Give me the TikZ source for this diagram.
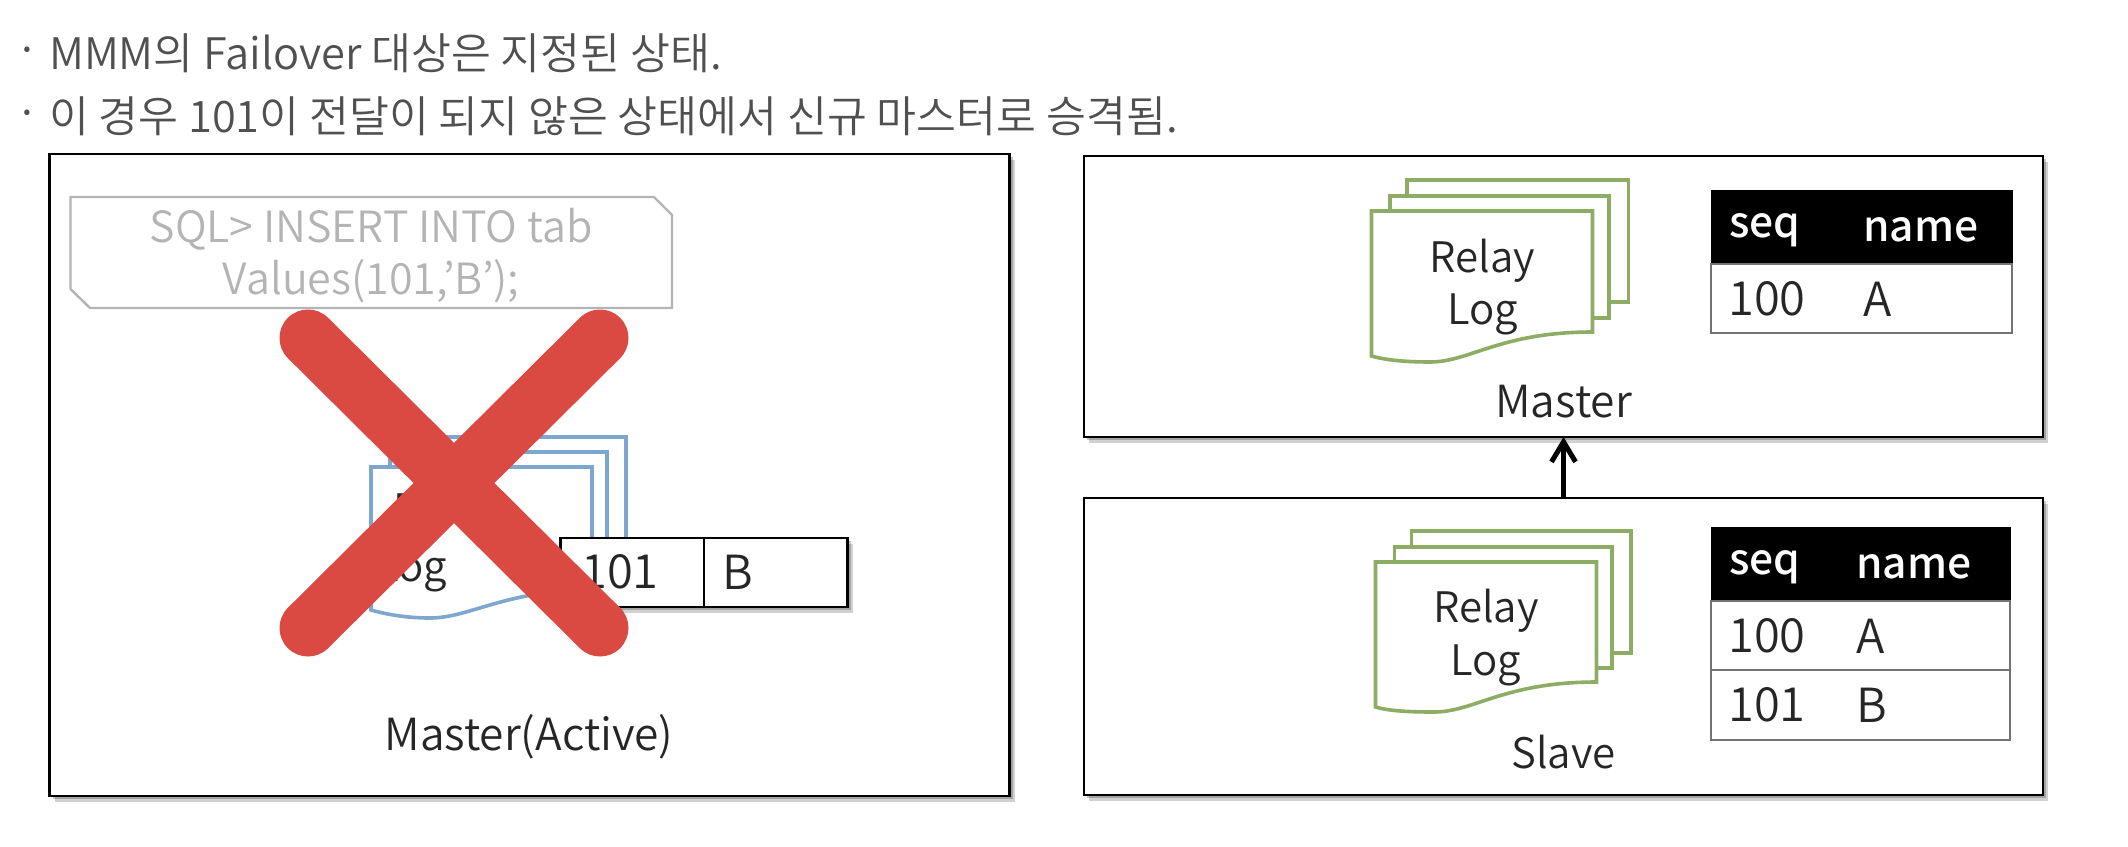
\documentclass[tikz,border=0pt]{standalone}
\usepackage{fontspec}
\setmainfont{Noto Sans CJK KR}[UprightFont=* DemiLight]
\newfontfamily\hdfont{Noto Sans CJK KR Medium}
\usetikzlibrary{shadows,arrows.meta,positioning}
\definecolor{blueln}{HTML}{7DA7CF}
\definecolor{greenln}{HTML}{8DAD65}
\definecolor{redx}{HTML}{DA4A43}
\definecolor{greytx}{HTML}{B4B4B4}
\definecolor{txt}{HTML}{262626}
\definecolor{bodytx}{HTML}{505050}
\tikzset{
  softshadow/.style={drop shadow={shadow xshift=3pt,shadow yshift=-3pt,opacity=.22,fill=black},
                     drop shadow={shadow xshift=5pt,shadow yshift=-6pt,opacity=.18,fill=black}},
  panel/.style={draw=black,line width=2.4pt,fill=white,anchor=north west,inner sep=0pt,outer sep=0pt,softshadow},
  lbl/.style={font=\fontsize{42}{48}\selectfont,text=txt,inner sep=0pt,anchor=center},
  biglbl/.style={font=\fontsize{44.2}{52}\selectfont,text=txt,inner sep=0pt,anchor=center},
  bullet/.style={font=\fontsize{43.4}{50}\selectfont,text=bodytx,inner sep=0pt,anchor=west},
  thead/.style={fill=black,draw=black,line width=1pt,anchor=north west,inner sep=0pt,outer sep=0pt},
  tbody/.style={fill=white,draw=black!55,line width=1.6pt,anchor=north west,inner sep=0pt,outer sep=0pt},
  thtx/.style={font=\hdfont\fontsize{42.5}{48}\selectfont,text=white,inner sep=0pt,anchor=west},
  tdtx/.style={font=\fontsize{47}{52}\selectfont,text=txt,inner sep=0pt,anchor=west},
  docg/.style={draw=greenln,line width=3.6pt,fill=white},
  docb/.style={draw=blueln,line width=3.6pt,fill=white},
}
\begin{document}
\begin{tikzpicture}[x=1pt,y=-1pt]
\useasboundingbox (0,0) rectangle (2128,846);
\fill[white] (0,0) rectangle (2128,846);
% heading
\node[bullet] (d1) at (15,56) {·};
\node[bullet] (d2) at (15,119) {·};
\node[bullet] (t1) at (49,53) {MMM의 Failover 대상은 지정된 상태.};
\node[bullet] (t2) at (49,116) {이 경우 101이 전달이 되지 않은 상태에서 신규 마스터로 승격됨.};
% panels
\node[panel,minimum width=960pt,minimum height=642pt] (left) at (49.5,154) {};
\node[panel,minimum width=959pt,minimum height=281pt] (master) at (1084,156) {};
\node[panel,minimum width=959pt,minimum height=297pt] (slave) at (1084,498) {};
\draw[-{Straight Barb[length=20pt,width=24pt]},line width=5pt] (slave.north) -- (master.south);
% SQL box
\draw[draw=greytx,line width=2.4pt,fill=white] (70.5,197) -- (654,197) -- (672,215) -- (672,308) -- (90,308) -- (70.5,289) -- cycle;
\node[font=\fontsize{43}{52}\selectfont,text=greytx,align=center,inner sep=0pt] (sql) at (371,256) {SQL> INSERT INTO tab\\Values(101,’B’);};
% blue docs
\draw[docb] (412,437) rectangle (626,560);
\draw[docb] (390,452) rectangle (607,575);
\draw[docb] (371,467) -- (592,467) -- (592,590) .. controls (505,590) and (470,618) .. (430,618) .. controls (405,618) and (385,614) .. (371,610) -- cycle;
\node[lbl] (rl0) at (446,513) {Relay};
\node[lbl] (lg0) at (412,571) {Log};
% 101 B
\node[panel,minimum width=143.5pt,minimum height=69pt] (c101) at (560.5,538) {};
\node[panel,minimum width=143.5pt,minimum height=69pt] (cB) at (704,538) {};
\node[tdtx] (v101) at (581,572) {101};
\node[tdtx] (vB) at (722,572) {B};
% red X
\draw[redx,line width=57pt,line cap=round] (308,338) -- (600,628);
\draw[redx,line width=57pt,line cap=round] (600,338) -- (308,628);
\node[biglbl] (mact) at (529,737) {Master(Active)};
% green docs master
\draw[docg] (1407,180) rectangle (1628.5,302);
\draw[docg] (1390,196) rectangle (1609,318);
\draw[docg] (1371.5,211) -- (1592.5,211) -- (1592.5,332) .. controls (1500,332) and (1470,362) .. (1430,362) .. controls (1405,362) and (1385,360) .. (1371.5,356) -- cycle;
\node[lbl] (rl1) at (1482.5,261) {Relay};
\node[lbl] (lg1) at (1482.5,314) {Log};
\node[biglbl] (m1) at (1563.5,402) {Master};
% master table
\node[thead,minimum width=301pt,minimum height=74pt] (h1) at (1711,190) {};
\node[tbody,minimum width=301pt,minimum height=69pt] (r1) at (1711,264) {};
\node[thtx] at (1729,230) {seq};
\node[thtx] at (1863,230) {name};
\node[tdtx] at (1728,299) {100};
\node[tdtx] at (1863,299) {A};
% green docs slave
\draw[docg] (1411.5,531) rectangle (1631,653);
\draw[docg] (1394.5,547) rectangle (1612,668);
\draw[docg] (1375.5,562) -- (1596.5,562) -- (1596.5,682) .. controls (1504,682) and (1474,712) .. (1434,712) .. controls (1409,712) and (1389,711) .. (1375.5,707) -- cycle;
\node[lbl] (rl2) at (1486,611) {Relay};
\node[lbl] (lg2) at (1486,665) {Log};
\node[lbl] (s1) at (1563.5,752) {Slave};
% slave table
\node[thead,minimum width=299pt,minimum height=74pt] (h2) at (1711,527) {};
\node[tbody,minimum width=299pt,minimum height=69pt] (r2) at (1711,601) {};
\node[tbody,minimum width=299pt,minimum height=70pt] (r3) at (1711,670) {};
\node[thtx] at (1729,567) {seq};
\node[thtx] at (1856,567) {name};
\node[tdtx] at (1728,636) {100};
\node[tdtx] at (1856,636) {A};
\node[tdtx] at (1728,705) {101};
\node[tdtx] at (1856,705) {B};
\end{tikzpicture}
\end{document}
